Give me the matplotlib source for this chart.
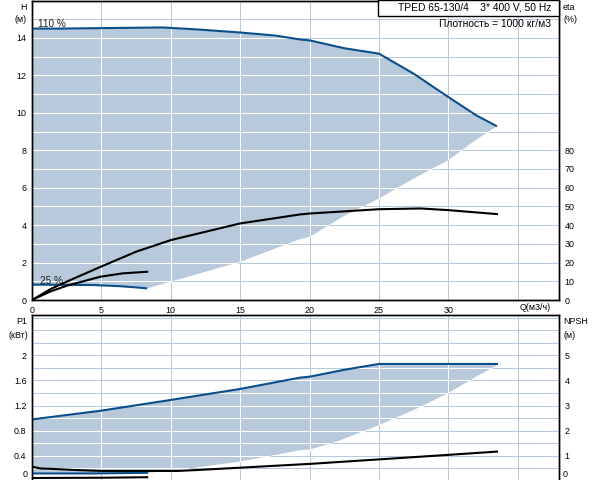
import matplotlib
matplotlib.use("Agg")
import matplotlib.pyplot as plt
from matplotlib.transforms import offset_copy
from matplotlib.patches import Rectangle

plt.rcParams['font.family'] = ['Liberation Sans', 'DejaVu Sans']

# ---------------- data ----------------
# Head, 110 % speed
q_h110 = [0, 2, 9.4, 12, 15, 17.5, 19.3, 20, 22.5, 25, 27.5, 30, 32, 33.5]
h_h110 = [14.5, 14.5, 14.56, 14.45, 14.29, 14.13, 13.92, 13.87, 13.45, 13.16, 12.09, 10.84, 9.87, 9.28]
# Head, 25 % speed
q_h25 = [0, 4.4, 6.3, 7.4, 8.3]
h_h25 = [0.82, 0.8, 0.74, 0.68, 0.62]
# lower limit of the operating area (H)
q_hlim = [8.3, 10, 12.5, 15, 19.3, 20, 22.5, 25, 27.5, 30, 32, 33.5]
h_hlim = [0.62, 0.98, 1.51, 2.04, 3.25, 3.37, 4.5, 5.42, 6.49, 7.47, 8.57, 9.28]
# Efficiency (%)
q_eta = [0, 1.3, 2.5, 4.9, 7.5, 10, 15, 19.3, 20, 25, 28, 30, 33.5]
eta_110 = [0, 5.7, 9.8, 17.6, 25.8, 32, 40.9, 45.7, 46.2, 48.5, 48.9, 48, 45.9]
q_eta25 = [0, 1.3, 2.5, 4.9, 6.5, 8.3]
eta_25 = [0, 4.5, 7.6, 12.4, 14.2, 15.1]
# Power P1 (kW)
q_p110 = [0, 5, 10, 15, 19.3, 20, 22.5, 25, 33.5]
p_110 = [0.98, 1.12, 1.29, 1.465, 1.645, 1.66, 1.77, 1.863, 1.863]
q_p25 = [0, 4.4, 8.3]
p_25 = [0.12, 0.12, 0.13]
q_plim = [8.3, 10, 15, 19.3, 20, 22, 25, 27.5, 30, 32, 33.5]
p_plim = [0.13, 0.16, 0.31, 0.49, 0.50, 0.63, 0.89, 1.13, 1.40, 1.66, 1.84]
# NPSH (m)
q_npsh = [0, 0.6, 1.5, 3, 5, 10.5, 12, 15, 19.3, 20, 25, 30, 33.5]
npsh_110 = [0.57, 0.5, 0.48, 0.44, 0.40, 0.40, 0.44, 0.53, 0.66, 0.68, 0.86, 1.04, 1.17]
q_npsh25 = [0, 5, 8.3]
npsh_25 = [0.12, 0.13, 0.15]

x_ticks = [0, 5, 10, 15, 20, 25, 30]
h_ticks = [0, 2, 4, 6, 8, 10, 12, 14]
eta_ticks = [0, 10, 20, 30, 40, 50, 60, 70, 80]
p_ticks = [0, 0.4, 0.8, 1.2, 1.6, 2]
p_labels = ['0', '0.4', '0.8', '1.2', '1.6', '2']
npsh_ticks = [0, 1, 2, 3, 4, 5]

# ---------------- style ----------------
W, H = 592, 480
BLUE = '#0b4f8a'
FILL = '#b7c9da'
GRID = '#b9c9dc'
FS = 6.4
FST = 7.4

fig = plt.figure(figsize=(W / 100, H / 100), dpi=100)


def box(l, t, r, b):
    return [l / W, 1 - b / H, (r - l) / W, (b - t) / H]


ax1 = fig.add_axes(box(32, 0.5, 559, 300))
ax2 = fig.add_axes(box(32, 314.5, 559, 481))

XMAX = 37.97
ax1.set_xlim(0, XMAX)
ax1.set_ylim(0, 16)
ax2.set_xlim(0, XMAX)
ax2.set_ylim(0, 2.65)

GLW = 0.72


def crossings(us, vs, c):
    """Positions along u where the closed polygon (u, v) crosses v == c."""
    out = []
    n = len(us)
    for i in range(n):
        u0, v0 = us[i], vs[i]
        u1, v1 = us[(i + 1) % n], vs[(i + 1) % n]
        if (v0 <= c < v1) or (v1 <= c < v0):
            out.append(u0 + (c - v0) * (u1 - u0) / (v1 - v0))
    out.sort()
    return [(out[k], out[k + 1]) for k in range(0, len(out) - 1, 2)]


def grid(ax, xs, ys, polx, poly):
    for x in xs:
        ax.axvline(x, color=GRID, lw=GLW, zorder=0.5, snap=True)
        for a, b in crossings(poly, polx, x):
            ax.vlines(x, a, b, colors='white', lw=GLW, zorder=1.5, snap=True)
    for y in ys:
        ax.axhline(y, color=GRID, lw=GLW, zorder=0.5, snap=True)
        for a, b in crossings(polx, poly, y):
            ax.hlines(y, a, b, colors='white', lw=GLW, zorder=1.5, snap=True)


# --- top panel fill
px = q_h110 + q_hlim[::-1] + q_h25[::-1]
py = h_h110 + h_hlim[::-1] + h_h25[::-1]
ax1.fill(px, py, color=FILL, lw=0, zorder=1)
grid(ax1, [5, 10, 15, 20, 25, 30, 35], list(range(1, 16)), px, py)

ax1.plot(q_h110, h_h110, color=BLUE, lw=1.5, zorder=3, solid_capstyle='butt')
ax1.plot(q_h25, h_h25, color=BLUE, lw=1.5, zorder=3, solid_capstyle='butt')

ax1e = ax1.twinx()
ax1e.set_ylim(0, 160)
ax1e.plot(q_eta, eta_110, color='black', lw=1.5, zorder=3)
ax1e.plot(q_eta25, eta_25, color='black', lw=1.5, zorder=3)

ax1.text(1.45, 14.75, '110 %', fontsize=FS + 0.8, color='#222222', ha='center', va='center', zorder=4)
ax1.text(1.4, 1.03, '25 %', fontsize=FS + 0.8, color='#222222', ha='center', va='center', zorder=4)

# --- bottom panel fill
bx = q_p110 + q_plim[::-1] + q_p25[::-1]
by = p_110 + p_plim[::-1] + p_25[::-1]
ax2.fill(bx, by, color=FILL, lw=0, zorder=1)
pg = [round(0.2 * i, 2) for i in range(1, 14)]
grid(ax2, [5, 10, 15, 20, 25, 30, 35], pg, bx, by)

ax2.plot(q_p110, p_110, color=BLUE, lw=1.5, zorder=3)
ax2.plot(q_p25, p_25, color=BLUE, lw=1.5, zorder=3)

ax2n = ax2.twinx()
ax2n.set_ylim(0, 2.65 * 2.5)
ax2n.plot(q_npsh, npsh_110, color='black', lw=1.5, zorder=3)
ax2n.plot(q_npsh25, npsh_25, color='black', lw=1.5, zorder=3)

# --- ticks
for a in (ax1, ax1e, ax2, ax2n):
    a.tick_params(length=0, labelsize=FS, pad=4, colors='black')
    for s in a.spines.values():
        s.set_linewidth(1.0)

ax1.set_xticks(x_ticks)
ax1.set_xticklabels([str(v) for v in x_ticks])
ax1.set_yticks(h_ticks)
ax1e.set_yticks(eta_ticks)
ax2.set_xticks([])
ax2.set_yticks(p_ticks[1:])
ax2.set_yticklabels(p_labels[1:])
ax2n.set_yticks(npsh_ticks[1:])
ax2.spines['bottom'].set_visible(False)
ax2n.spines['bottom'].set_visible(False)

t0 = offset_copy(ax2.get_yaxis_transform(), fig=fig, x=-4, y=7, units='dots')
ax2.text(0, 0, p_labels[0], transform=t0, ha='right', va='center', fontsize=FS)
t1 = offset_copy(ax2n.get_yaxis_transform(), fig=fig, x=4, y=7, units='dots')
ax2n.text(1, 0, '0', transform=t1, ha='left', va='center', fontsize=FS)


# --- axis labels
def ftxt(x, y, s, ha='left', **kw):
    fig.text(x / W, 1 - y / H, s, ha=ha, va='center', fontsize=FS, **kw)


ftxt(27, 7, 'H', ha='right')
ftxt(27, 20, '(м)', ha='right')
ftxt(563, 7, 'eta')
ftxt(563, 20, '(%)')
ftxt(27, 322, 'P1', ha='right')
ftxt(28, 335, '(кВт)', ha='right')
ftxt(563, 322, 'NPSH')
ftxt(563, 335, '(м)')
ftxt(520, 308, 'Q(м3/ч)')

# --- title box
fig.patches.append(Rectangle((378 / W, 1 - 15.5 / H), (559 - 378) / W, 15.5 / H,
                             transform=fig.transFigure, facecolor='white',
                             edgecolor='black', lw=1.0, zorder=5))
fig.text(551 / W, 1 - 7.5 / H, 'TPED 65-130/4    3* 400 V, 50 Hz', ha='right', va='center',
         fontsize=FST, zorder=6)
fig.text(551 / W, 1 - 24 / H, 'Плотность = 1000 кг/м3', ha='right', va='center',
         fontsize=FST, zorder=6)

fig.savefig('out.png', dpi=100)
